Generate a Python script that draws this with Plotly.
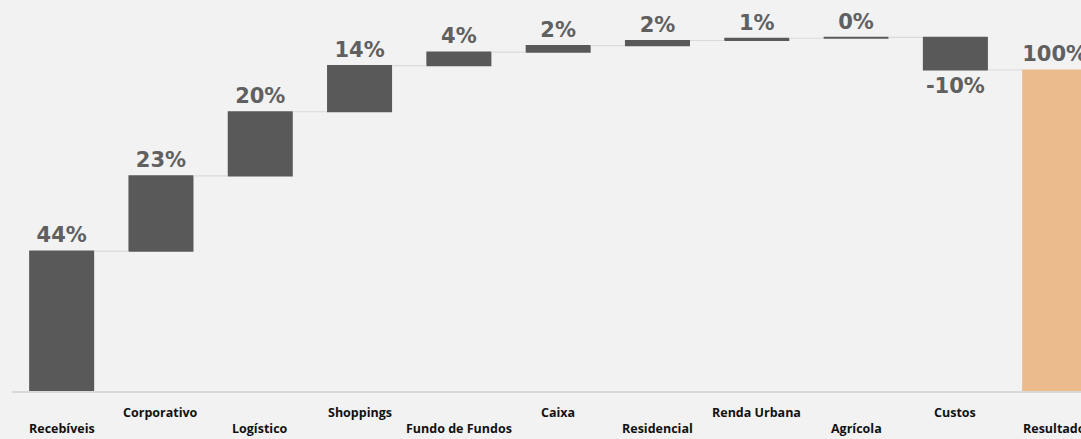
import plotly.graph_objects as go

categories = ["Recebíveis", "Corporativo", "Logístico", "Shoppings", "Fundo de Fundos",
              "Caixa", "Residencial", "Renda Urbana", "Agrícola", "Custos", "Resultado"]
values = [43.6, 23.4, 20.0, 14.4, 4.2, 2.0, 1.6, 0.7, 0.3, -10.2, 0]
measures = ["relative"] * 10 + ["total"]

total_value = sum(values[:-1])
labels = [f"{v:.0f}%" for v in values[:-1]] + [f"{total_value:.0f}%"]

BAR = "#595959"
TOTAL = "#EBBB8B"
BG = "#F2F2F2"

fig = go.Figure(go.Waterfall(
    x=categories,
    y=values,
    measure=measures,
    text=labels,
    textposition="outside",
    textfont=dict(family="DejaVu Sans", size=21, color="#606060", weight="bold"),
    cliponaxis=False,
    increasing=dict(marker=dict(color=BAR)),
    decreasing=dict(marker=dict(color=BAR)),
    totals=dict(marker=dict(color=TOTAL)),
    connector=dict(line=dict(color="#DADADA", width=1.2)),
    hoverinfo="skip",
))

annotations = []
for i, c in enumerate(categories):
    annotations.append(dict(
        x=c, y=0, xref="x", yref="y", text=c, showarrow=False,
        yanchor="middle", xanchor="center",
        yshift=-37 if i % 2 == 0 else -21,
        font=dict(family="Open Sans", size=12.5, color="#111111", weight="bold"),
    ))

fig.update_layout(
    width=1081, height=439,
    margin=dict(l=12, r=0, t=10, b=48),
    paper_bgcolor=BG, plot_bgcolor=BG,
    showlegend=False,
    waterfallgap=0.345,
    annotations=annotations,
    xaxis=dict(range=[-0.5, 10.265], showticklabels=False, showgrid=False,
               showline=True, linecolor="#D9D9D9", linewidth=1.5, ticks="", zeroline=False),
    yaxis=dict(range=[0, 118.7], visible=False, showgrid=False, zeroline=False),
)

fig.write_html(
    "out.html",
    config={"displayModeBar": False},
    post_script="document.body.style.margin='0';document.body.style.background='#F2F2F2';",
)
